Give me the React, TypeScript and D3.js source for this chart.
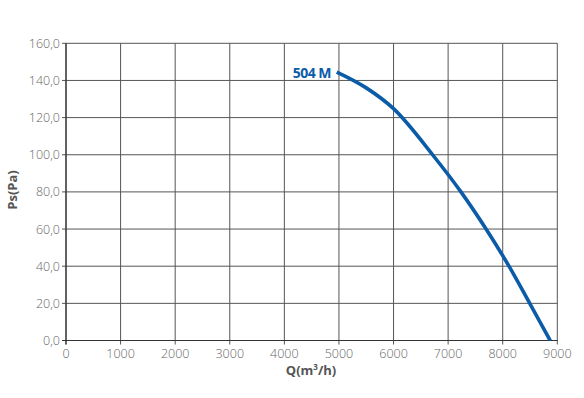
import React from "react";
import * as d3 from "d3";

const flowQ = [4960, 5500, 6000, 6715, 7235, 7695, 8115, 8495, 8870];
const pressurePs = [144.5, 136, 124.8, 100, 80, 60, 40, 20, 0];
const xTicks = [0, 1000, 2000, 3000, 4000, 5000, 6000, 7000, 8000, 9000];
const yTicks = [0, 20, 40, 60, 80, 100, 120, 140, 160];
const seriesName = "504 M";

const W = 584, H = 398;
const left = 66, right = 557.3, top = 43.3, bottom = 340.5;

export default function App() {
  const x = d3.scaleLinear().domain([0, 9000]).range([left, right]);
  const y = d3.scaleLinear().domain([0, 160]).range([bottom, top]);
  const pts = flowQ.map((q, i) => [x(q), y(pressurePs[i])] as [number, number]);
  const line = d3.line().curve(d3.curveMonotoneX)(pts) || "";
  const blue = "#0b5ca8";
  const font = "'Open Sans', 'Noto Sans', sans-serif";
  return (
    <svg width={W} height={H} style={{ position: "absolute", left: 0, top: 0, background: "#fff" }}>
      {xTicks.map((t) => (
        <line key={"gx" + t} x1={x(t)} x2={x(t)} y1={top} y2={bottom + 4} stroke="#555" strokeWidth={1} />
      ))}
      {yTicks.map((t) => (
        <line key={"gy" + t} x1={left - 4} x2={right} y1={y(t)} y2={y(t)} stroke="#555" strokeWidth={1} />
      ))}
      <line x1={left} x2={left} y1={top} y2={bottom + 4} stroke="#333" strokeWidth={1.2} />
      <line x1={left - 4} x2={right} y1={bottom} y2={bottom} stroke="#333" strokeWidth={1.2} />
      {yTicks.map((t) => (
        <text key={"ly" + t} x={left - 6} y={y(t) + 4.5} textAnchor="end" fontFamily={font} fontSize={12.5} fill="#666" fontWeight={300}>
          {t.toFixed(1).replace(".", ",")}
        </text>
      ))}
      {xTicks.map((t) => (
        <text key={"lx" + t} x={x(t)} y={358} textAnchor="middle" fontFamily={font} fontSize={12.5} fill="#666" fontWeight={300}>
          {t}
        </text>
      ))}
      <text x={311} y={375} textAnchor="middle" fontFamily={font} fontSize={13} fontWeight={700} fill="#555">
        Q(m<tspan fontSize={8} dy={-5}>3</tspan><tspan dy={5}>/h)</tspan>
      </text>
      <text transform="translate(17,190) rotate(-90)" textAnchor="middle" fontFamily={font} fontSize={13} fontWeight={700} fill="#555">
        Ps(Pa)
      </text>
      <path d={line} fill="none" stroke={blue} strokeWidth={3.6} strokeLinecap="butt" />
      <text x={331} y={77.5} textAnchor="end" fontFamily={font} fontSize={14} fontWeight={700} fill={blue} letterSpacing={-0.5}>
        {seriesName}
      </text>
    </svg>
  );
}
